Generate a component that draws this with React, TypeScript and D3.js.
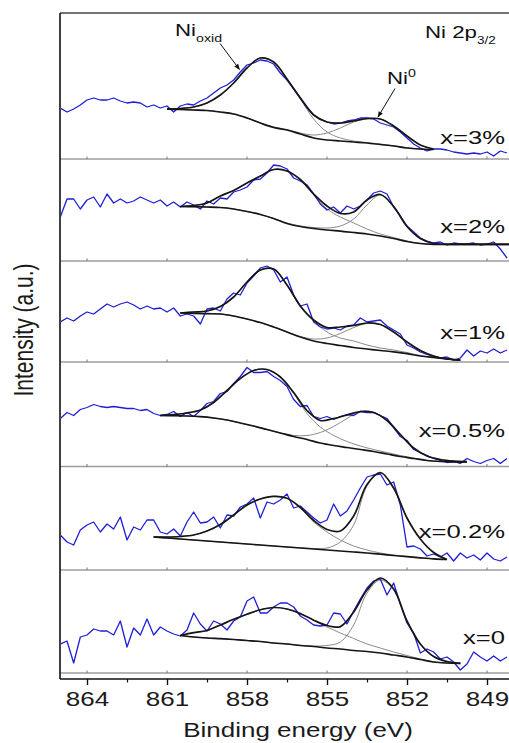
import React, { useEffect, useRef } from 'react';
import * as d3 from 'd3';

// Ni 2p3/2 XPS spectra, stacked panels

const font = '"Liberation Sans", Arial, sans-serif';

// measured spectra: binding energy grid start / step (eV)
const rawStart = 865;
const rawStep = 0.25;
// fitted curves are sampled every 0.5 eV from the panel's fit start
const fitStep = 0.5;

const sampleLabels = ['x=3%', 'x=2%', 'x=1%', 'x=0.5%', 'x=0.2%', 'x=0'];
const tickValues = [864, 861, 858, 855, 852, 849];
const minorTicks = [862.5, 859.5, 856.5, 853.5, 850.5];

// raw intensity (a.u.), one value per grid point
const raw3 = [51, 47, 50, 54, 59, 61, 59, 59, 61, 58, 56, 57, 56, 52, 54, 51, 53, 47, 53, 55, 54, 58, 61, 66, 71, 74, 79, 87, 94, 96, 99, 98, 95, 86, 79, 70, 61, 52, 44, 40, 37, 35, 36, 38, 39, 41, 41, 40, 36, 34, 32, 27, 21, 15, 11, 8, 10, 10, 9, 7, 6, 5, 6, 5, 7, 3, 8, 6];
const raw2 = [44, 62, 62, 52, 61, 64, 54, 67, 58, 62, 58, 60, 64, 61, 58, 61, 55, 59, 54, 59, 56, 52, 60, 57, 63, 62, 69, 71, 74, 81, 82, 88, 96, 95, 92, 83, 80, 76, 67, 57, 51, 54, 48, 55, 52, 55, 61, 68, 70, 67, 54, 45, 35, 29, 23, 20, 18, 19, 16, 18, 17, 17, 18, 16, 17, 19, 12, 3];
const raw1 = [40, 44, 41, 46, 50, 48, 53, 58, 55, 58, 60, 57, 53, 56, 53, 54, 50, 54, 46, 48, 46, 38, 53, 54, 51, 63, 69, 67, 79, 86, 94, 96, 92, 80, 85, 67, 56, 58, 40, 35, 33, 34, 32, 36, 37, 44, 40, 41, 42, 36, 32, 28, 17, 14, 10, 7.5, 5.5, 4, 5, 2, 4, 12, 6, 11, 9, 13, 9, 12];
const raw05 = [48, 54, 51, 57, 59, 62, 60, 59, 60, 59, 58, 58, 56, 57, 53, 51, 52, 55, 50, 54, 50, 56, 63, 65, 73, 75, 83, 90, 99, 94, 94, 95, 90, 86, 80, 67, 60, 61, 50, 48, 50, 47, 50, 52, 51, 55, 54, 54, 51, 48, 39, 30, 26, 17, 14, 11, 8, 6, 4, 5, 3, 8, 5, 3, 6, 8, 3, 8];
const raw02 = [35, 28, 25, 40, 45, 48, 38, 46, 41, 53, 30, 43, 40, 50, 50, 38, 36, 41, 34, 48, 58, 47, 48, 53, 42, 55, 54, 63, 66, 72, 52, 68, 66, 70, 76, 62, 64, 58, 52, 47, 50, 66, 54, 59, 70, 82, 93, 95, 96, 85, 88, 65, 23, 24, 21, 14, 16, 13, 17, 9, 17, 12, 15, 10, 17, 11, 9, 13];
const raw0 = [29, 32, 10, 36, 38, 44, 42, 42, 38, 52, 26, 45, 38, 54, 38, 46, 42, 39, 37, 43, 60, 49, 42, 52, 49, 43, 52, 56, 72, 76, 60, 60, 66, 70, 70, 66, 57, 53, 48, 47, 48, 60, 59, 49, 62, 74, 85, 92, 94, 78, 90, 69, 50, 40, 20, 24, 21, 14, 16, 11, 3, 9, 21, 16, 12, 17, 12, 16];

// fit start energies (eV) per panel
const fitStart = [861, 860.5, 860.5, 861.25, 861.5, 860.5];

// envelope, background, oxide component, metallic Ni component
const env3 = [50, 50.5, 52, 56, 64, 76, 91, 101, 97, 80, 61, 44, 37, 36, 38, 40.5, 40, 33, 23, 14, 10];
const bg3 = [50, 49.5, 49, 48.5, 47, 45, 41, 36, 31.5, 29, 25, 21, 19, 18, 17, 16, 14.5, 13, 11, 10, 9.5];
const ox3 = [50, 50.5, 52, 56, 64, 76, 91, 101, 97, 80, 60, 40, 27, 21, 18, 16.5, 15, 13.2, 11.2, 10, 9.5];
const ni3 = [50, 49.5, 49, 48.5, 47, 45, 41, 36, 32, 29.5, 26, 24, 26, 31, 37, 40, 40, 33, 23, 14, 10];

const env2 = [54.5, 55.5, 58, 65, 70.5, 78, 85, 91.5, 90, 81.5, 67, 55, 47.5, 49, 61, 66.5, 54.5, 34.5, 22.5, 17.5, 16.7, 16.7, 16.7, 16.7, 16.7, 16.7];
const bg2 = [54.5, 54.3, 54, 53.5, 52, 49.5, 46.5, 42.5, 37.5, 34.5, 32.5, 31, 29.8, 28.5, 27, 25, 22.5, 19.5, 17.5, 16.7, 16.7, 16.7, 16.7, 16.7, 16.7, 16.7];
const ox2 = [54.5, 55.5, 58, 65, 70.5, 78, 85, 91.5, 90, 81, 66, 52, 44, 38, 32, 27, 23.5, 20, 17.5, 16.7, 16.7, 16.7, 16.7, 16.7, 16.7, 16.7];
const ni2 = [54.5, 54.3, 54, 53.5, 52, 49.5, 46.5, 42.5, 38, 35, 33.5, 33, 35, 42, 56, 66, 54.5, 34.5, 22.5, 17.5, 16.7, 16.7, 16.7, 16.7, 16.7, 16.7];

const env1 = [49, 50, 51, 55.5, 65, 80, 92, 93, 77, 56, 42, 34.5, 35, 36.5, 39, 37.5, 30, 20, 11.5, 6, 3, 1.8];
const bg1 = [49, 48.7, 48.3, 48, 46, 43, 39.5, 35, 30, 25, 21, 18.5, 16.5, 14.5, 13, 11.5, 10.2, 8.3, 6, 4.5, 3.2, 1.8];
const ox1 = [49, 50, 51, 55.5, 65, 80, 92, 93, 77, 55, 41, 30, 24, 21, 17, 14, 12, 9.5, 6.5, 4.5, 3.2, 1.8];
const ni1 = [49, 48.7, 48.3, 48, 46, 43, 39.5, 35, 30, 25.5, 23, 24, 28.5, 34.5, 38.5, 37.5, 30, 20, 11.5, 6, 3, 1.8];

const env05 = [51, 52, 53.5, 56.5, 64, 76, 88, 96, 97, 89.5, 74, 56, 46, 48, 51.5, 55, 54, 46, 32, 18.5, 10.5, 7, 5.5, 5];
const bg05 = [51, 50.8, 50.5, 49.8, 48.5, 46.5, 43.5, 40.5, 37, 33.5, 30, 27, 23.5, 21, 19, 17, 15, 12.5, 10, 8, 6, 5, 4.5, 4.5];
const ox05 = [51, 52, 53.5, 56.5, 64, 76, 88, 96, 97, 89.5, 73, 53, 39.5, 31, 25, 20.5, 17, 14, 11, 8.5, 6, 5, 4.5, 4.5];
const ni05 = [51, 50.8, 50.5, 49.8, 48.5, 46.5, 43.5, 40.5, 37, 33.5, 31, 31, 34, 40, 48, 55, 54, 46, 32, 18.5, 10.5, 7, 5.5, 5];

const env02 = [33, 33, 33.5, 35, 39, 45.5, 55, 65, 71, 73.7, 71.7, 62.5, 49.5, 40.5, 39, 54, 85.5, 97.5, 82, 52, 31, 17.5, 10.5];
const bg02 = [33, 32, 31, 30, 29, 28, 27, 26, 25, 24, 23, 22, 21, 20, 19, 18, 17, 15.8, 14.5, 13.3, 12.2, 11.2, 10.5];
const ox02 = [33, 33, 33.5, 35, 39, 45.5, 55, 65, 71, 73.7, 71.7, 62, 48, 38, 30, 24, 20, 17, 15, 13.5, 12.2, 11.2, 10.5];
const ni02 = [33, 32, 31, 30, 29, 28, 27, 26, 25, 24, 23, 22.3, 21.5, 22, 28, 45, 84, 97, 81.5, 52, 31, 17.5, 10.5];

const env0 = [37.5, 40.3, 42.5, 48, 53.7, 58.8, 63.2, 65.5, 64, 59.4, 52.8, 47.5, 46.4, 61, 83, 95, 84, 52, 29, 16.5, 11.5, 9.7];
const bg0 = [37.5, 36, 35, 34.3, 33.5, 32.5, 31.5, 30, 29, 27.5, 26.5, 25, 24, 22.5, 21.5, 20, 18, 16, 13.5, 11, 10, 9.7];
const ox0 = [37.5, 40.3, 42.5, 48, 53.7, 58.8, 63.2, 65.5, 64, 59.4, 52.8, 46, 40, 34.5, 29, 25, 21, 17.5, 14, 11, 10, 9.7];
const ni0 = [37.5, 36, 35, 34.3, 33.5, 32.5, 31.5, 30, 29, 27.7, 27, 27.5, 31, 48, 80, 93, 83, 52, 29, 16.5, 11.5, 9.7];

const panels = [
  { raw: raw3, env: env3, bg: bg3, ox: ox3, ni: ni3 },
  { raw: raw2, env: env2, bg: bg2, ox: ox2, ni: ni2 },
  { raw: raw1, env: env1, bg: bg1, ox: ox1, ni: ni1 },
  { raw: raw05, env: env05, bg: bg05, ox: ox05, ni: ni05 },
  { raw: raw02, env: env02, bg: bg02, ox: ox02, ni: ni02 },
  { raw: raw0, env: env0, bg: bg0, ox: ox0, ni: ni0 },
];

// layout
const W = 509;
const H = 743;
const left = 60;
const top = 13;
const axisY = 679;
const baselines = [159, 261, 362, 466.5, 570, 673];
const labelY = [144, 233, 339, 437, 538, 644];

const x = d3.scaleLinear().domain([864, 849]).range([87, 487]);

export default function App() {
  const axisRef = useRef<SVGGElement>(null);
  const minorRef = useRef<SVGGElement>(null);

  useEffect(() => {
    const g = d3.select(axisRef.current);
    g.selectAll('*').remove();
    g.call(d3.axisBottom(x).tickValues(tickValues).tickSize(6).tickFormat(d3.format('d')) as any);
    g.select('.domain').remove();
    g.selectAll('.tick line').attr('stroke', '#111').attr('stroke-width', 1.4);
    g.selectAll('.tick text')
      .attr('y', 27)
      .attr('dy', 0)
      .attr('transform', 'scale(1.3,1)')
      .attr('font-size', 20)
      .attr('font-family', font)
      .attr('fill', '#1a1a1a');

    const m = d3.select(minorRef.current);
    m.selectAll('*').remove();
    m.call(d3.axisBottom(x).tickValues(minorTicks).tickSize(3.5).tickFormat(() => '') as any);
    m.select('.domain').remove();
    m.selectAll('.tick line').attr('stroke', '#111').attr('stroke-width', 1.2);
  }, []);

  const rawLine = (y: d3.ScaleLinear<number, number>) =>
    d3.line<number>().x((_, i) => x(rawStart - i * rawStep)).y(d => y(d));

  const fitLine = (y: d3.ScaleLinear<number, number>, start: number) =>
    d3.line<number>()
      .x((_, i) => x(start - i * fitStep))
      .y(d => y(d))
      .curve(d3.curveCatmullRom.alpha(0.5));

  return (
    <svg width={W} height={H} style={{ position: 'absolute', left: 0, top: 0, background: '#fff' }}>
      <defs>
        <clipPath id="plot">
          <rect x={left + 1} y={top} width={W - left} height={axisY - top} />
        </clipPath>
        <marker id="arrow" viewBox="0 0 10 10" refX="9" refY="5" markerWidth="7" markerHeight="6" orient="auto-start-reverse">
          <path d="M0,1 L10,5 L0,9 Z" fill="#111" />
        </marker>
      </defs>

      {/* panel separators */}
      {baselines.map((b, i) => (
        <g key={'sep' + i}>
          <line x1={left} x2={W} y1={b} y2={b} stroke="#9d9d9d" strokeWidth={1.5} />
          {tickValues.map(t => (
            <line key={t} x1={x(t)} x2={x(t)} y1={b} y2={b - 2.5} stroke="#777" strokeWidth={1} />
          ))}
        </g>
      ))}

      <g clipPath="url(#plot)">
        {panels.map((p, i) => {
          const b = baselines[i];
          const y = d3.scaleLinear().domain([0, 100]).range([b, b - 100]);
          const fl = fitLine(y, fitStart[i]);
          return (
            <g key={'p' + i}>
              <path d={fl(p.ox) || ''} fill="none" stroke="#8a8a8a" strokeWidth={1} />
              <path d={fl(p.ni) || ''} fill="none" stroke="#8a8a8a" strokeWidth={1} />
              <path d={rawLine(y)(p.raw) || ''} fill="none" stroke="#1f1fd8" strokeWidth={1.3} strokeLinejoin="round" />
              <path d={fl(p.bg) || ''} fill="none" stroke="#151515" strokeWidth={1.7} />
              <path d={fl(p.env) || ''} fill="none" stroke="#151515" strokeWidth={1.7} />
            </g>
          );
        })}
      </g>

      {/* frame */}
      <line x1={left} x2={W} y1={top} y2={top} stroke="#444" strokeWidth={1.5} />
      <line x1={left} x2={left} y1={top} y2={axisY} stroke="#111" strokeWidth={1.6} />
      <line x1={left} x2={W} y1={axisY} y2={axisY} stroke="#111" strokeWidth={1.6} />
      <g ref={axisRef} transform={`translate(0,${axisY})`} />
      <g ref={minorRef} transform={`translate(0,${axisY})`} />

      {/* sample labels */}
      {sampleLabels.map((s, i) => (
        <text key={s} transform={`translate(505,${labelY[i]}) scale(1.35,1)`} textAnchor="end"
          fontFamily={font} fontSize={19} fill="#111">{s}</text>
      ))}

      {/* annotations */}
      <text transform="translate(425,38) scale(1.35,1)" fontFamily={font} fontSize={16.5} fill="#111">
        Ni 2p<tspan fontSize={10} dy={6}>3/2</tspan>
      </text>
      <text transform="translate(175,35.5) scale(1.35,1)" fontFamily={font} fontSize={16.5} fill="#111">
        Ni<tspan fontSize={10.5} dy={6.5}>oxid</tspan>
      </text>
      <text transform="translate(387,84) scale(1.35,1)" fontFamily={font} fontSize={16.5} fill="#111">
        Ni<tspan fontSize={10.5} dy={-7}>0</tspan>
      </text>
      <line x1={220} y1={43.5} x2={239.5} y2={69.5} stroke="#111" strokeWidth={1} markerEnd="url(#arrow)" />
      <line x1={395} y1={88.5} x2={378} y2={117} stroke="#111" strokeWidth={1} markerEnd="url(#arrow)" />

      {/* axis titles */}
      <text transform="translate(298,736.5) scale(1.3,1)" textAnchor="middle" fontFamily={font} fontSize={20} fill="#1a1a1a">
        Binding energy (eV)
      </text>
      <text transform="translate(33,330) scale(1.3,1) rotate(-90)" textAnchor="middle" fontFamily={font} fontSize={21} fill="#1a1a1a">
        Intensity (a.u.)
      </text>
    </svg>
  );
}
